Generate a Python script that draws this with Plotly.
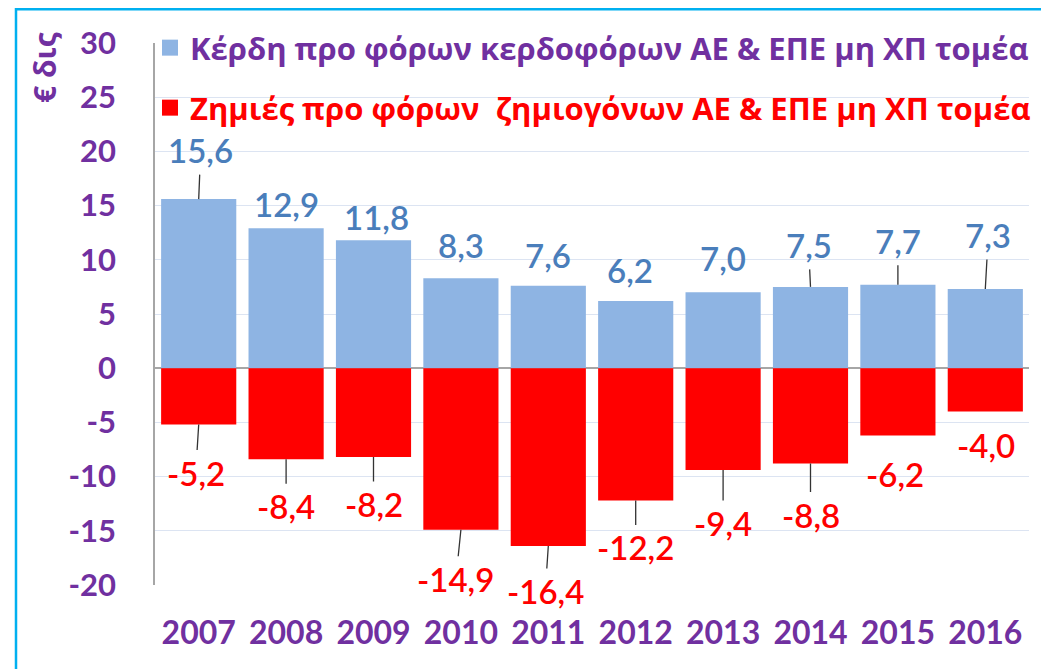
import plotly.graph_objects as go

years = ["2007", "2008", "2009", "2010", "2011", "2012", "2013", "2014", "2015", "2016"]
profits = [15.6, 12.9, 11.8, 8.3, 7.6, 6.2, 7.0, 7.5, 7.7, 7.3]
losses = [-5.2, -8.4, -8.2, -14.9, -16.4, -12.2, -9.4, -8.8, -6.2, -4.0]
profit_name = "Κέρδη προ φόρων κερδοφόρων ΑΕ & ΕΠΕ μη ΧΠ τομέα"
loss_name = "Ζημιές προ φόρων  ζημιογόνων ΑΕ & ΕΠΕ μη ΧΠ τομέα"
y_title = "€ δις"
y_ticks = [-20, -15, -10, -5, 0, 5, 10, 15, 20, 25, 30]

# label placement (pixel offsets from bar end) and leader-line flags
pos_dx = [2, 0, 3, 0, 0, -6, 0, -2, 0, 3]
pos_dy = [-49, -24, -23, -33, -31, -31, -34, -42, -44, -54]
pos_leader = [1, 0, 0, 0, 0, 0, 0, 1, 1, 1]
neg_dx = [-3, 0, 0, -5, -3, 0, 0, 0, -3, 1]
neg_dy = [48, 47, 47, 49, 45, 47, 53, 51, 39, 33]
neg_leader = [1, 1, 1, 1, 1, 1, 1, 1, 0, 0]

W, H = 1049, 669
OFF = 8  # page offset of the figure inside the browser window
ML, MR, MT, MB = 147, 28, 35, 92
PW, PH = W - ML - MR, H - MT - MB

def px2x(px):
    return (px - OFF - ML) / PW

def py2y(py):
    return (H - MB - (py - OFF)) / PH

PURPLE = "#7030A0"
BLUE_BAR = "#8EB4E3"
BLUE_TXT = "#4A7EBB"
RED = "#FF0000"
FONT = "Lato"
GFONT = "Open Sans"

fig = go.Figure()
fig.add_trace(go.Bar(x=years, y=profits, marker=dict(color=BLUE_BAR, line=dict(width=0)),
                     showlegend=False))
fig.add_trace(go.Bar(x=years, y=losses, marker=dict(color=RED, line=dict(width=0)),
                     showlegend=False))
# legend entries (no visible data)
fig.add_trace(go.Scatter(x=[years[0]], y=[None], mode="markers", name=profit_name,
                         marker=dict(symbol="square", size=18, color=BLUE_BAR),
                         legend="legend", hoverinfo="skip"))
fig.add_trace(go.Scatter(x=[years[0]], y=[None], mode="markers", name=loss_name,
                         marker=dict(symbol="square", size=18, color=RED),
                         legend="legend2", hoverinfo="skip"))

annotations = []
for i, yr in enumerate(years):
    annotations.append(dict(
        x=i, y=profits[i], xref="x", yref="y",
        text=f"{profits[i]:.1f}".replace(".", ","),
        showarrow=True, arrowhead=0, arrowwidth=1.3,
        arrowcolor="#333333" if pos_leader[i] else "rgba(0,0,0,0)",
        ax=pos_dx[i], ay=pos_dy[i], borderpad=4,
        font=dict(family=FONT, size=33, color=BLUE_TXT, weight=600)))
    annotations.append(dict(
        x=i, y=losses[i], xref="x", yref="y",
        text=f"{losses[i]:.1f}".replace(".", ","),
        showarrow=True, arrowhead=0, arrowwidth=1.3,
        arrowcolor="#333333" if neg_leader[i] else "rgba(0,0,0,0)",
        ax=neg_dx[i], ay=neg_dy[i], borderpad=2,
        font=dict(family=FONT, size=33, color=RED, weight=600)))

annotations.append(dict(
    x=px2x(45), y=py2y(67), xref="paper", yref="paper", text=y_title,
    textangle=-90, showarrow=False, xanchor="center", yanchor="middle",
    font=dict(family=GFONT, size=30, color=PURPLE, weight="bold")))

fig.update_layout(
    width=W, height=H,
    margin=dict(l=ML, r=MR, t=MT, b=MB, autoexpand=False),
    paper_bgcolor="white", plot_bgcolor="white",
    barmode="relative", bargap=0.14,
    font=dict(family=FONT),
    annotations=annotations,
    legend=dict(x=px2x(150), y=py2y(48), xanchor="left", yanchor="middle",
                bgcolor="rgba(0,0,0,0)", borderwidth=0,
                font=dict(family=GFONT, size=31, color=PURPLE, weight="bold")),
    legend2=dict(x=px2x(150), y=py2y(108), xanchor="left", yanchor="middle",
                 bgcolor="rgba(0,0,0,0)", borderwidth=0,
                 font=dict(family=GFONT, size=31, color=RED, weight="bold")),
    shapes=[dict(type="rect", xref="paper", yref="paper",
                 x0=px2x(16), x1=px2x(1100), y0=py2y(720), y1=py2y(9.3),
                 line=dict(color="#00B0F0", width=2.5), fillcolor="rgba(0,0,0,0)",
                 layer="below")],
)
fig.update_xaxes(type="category", categoryorder="array", categoryarray=years,
                 range=[-0.5, len(years) - 0.5],
                 showgrid=False, ticks="", showline=False,
                 zeroline=False, ticklabelstandoff=26,
                 tickfont=dict(family=FONT, size=32, color=PURPLE, weight="bold"))
fig.update_yaxes(range=[-20, 30], tickvals=y_ticks, ticktext=[str(v) for v in y_ticks],
                 showgrid=True, gridcolor="#DCE4F2",
                 gridwidth=1.3, zeroline=True, zerolinecolor="#A6A6A6", zerolinewidth=1.5,
                 showline=True, linecolor="#A6A6A6", linewidth=1.5, ticks="",
                 ticklabelstandoff=31,
                 tickfont=dict(family=FONT, size=31, color=PURPLE, weight="bold"))

fig.write_html("out.html")
